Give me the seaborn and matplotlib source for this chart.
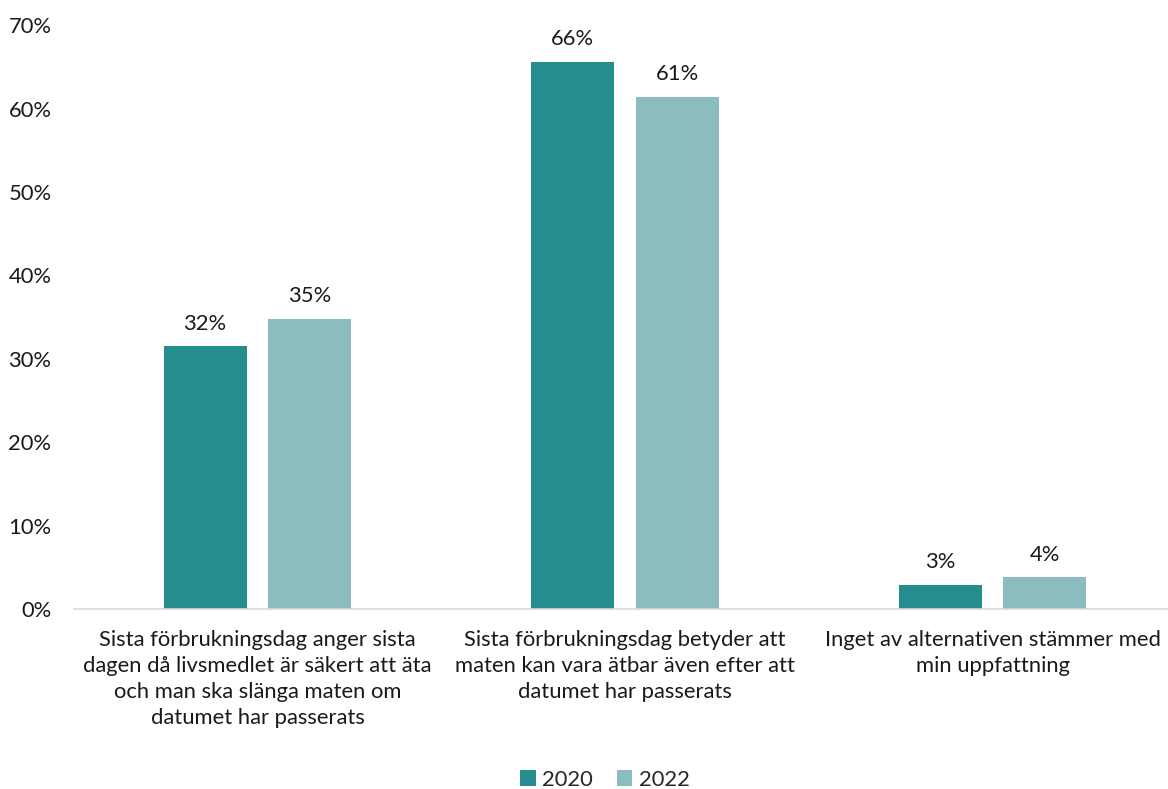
import matplotlib
matplotlib.use("Agg")
import matplotlib.pyplot as plt
import seaborn as sns
import pandas as pd
from matplotlib.patches import Patch

categories = [
    "Sista förbrukningsdag anger sista\ndagen då livsmedlet är säkert att äta\noch man ska slänga maten om\ndatumet har passerats",
    "Sista förbrukningsdag betyder att\nmaten kan vara ätbar även efter att\ndatumet har passerats",
    "Inget av alternativen stämmer med\nmin uppfattning",
]
years = ["2020", "2022"]
values_2020 = [31.5, 65.6, 2.9]
values_2022 = [34.8, 61.4, 3.8]
colors = {"2020": "#268D8E", "2022": "#8BBCBF"}

df = pd.DataFrame({
    "kategori": categories * 2,
    "år": [years[0]] * 3 + [years[1]] * 3,
    "andel": values_2020 + values_2022,
})

sns.set_theme(style="white")
plt.rcParams["font.family"] = ["Lato", "DejaVu Sans"]
FS = 15.8
TXT = "#1a1a1a"

fig = plt.figure(figsize=(11.68, 7.89), dpi=100)
ax = fig.add_axes([0.0631, 0.228, 0.944, 0.74])

sns.barplot(data=df, x="kategori", y="andel", hue="år", order=categories,
            hue_order=years, palette=colors, width=0.571, gap=0.209,
            ax=ax, legend=False, saturation=1, edgecolor="none")

for container in ax.containers:
    ax.bar_label(container, labels=[f"{v:.0f}%" for v in container.datavalues],
                 padding=9, fontsize=FS, color=TXT)

ax.set_ylim(0, 70)
ax.set_yticks(range(0, 71, 10))
ax.set_yticklabels([f"{t}%" for t in range(0, 71, 10)], fontsize=FS, color=TXT)
ax.set_xlim(-0.5, 2.5)
ax.set_xlabel("")
ax.set_ylabel("")
ax.tick_params(axis="x", labelsize=FS, colors=TXT, pad=15, length=0)
ax.tick_params(axis="y", pad=16, length=0)
for lbl in ax.get_xticklabels():
    lbl.set_linespacing(1.38)

for side in ["top", "right", "left"]:
    ax.spines[side].set_visible(False)
ax.spines["bottom"].set_color("#D9D9D9")
ax.spines["bottom"].set_linewidth(1.2)
ax.grid(False)

handles = [Patch(facecolor=colors[y], edgecolor="none", label=y) for y in years]
fig.legend(handles=handles, loc="center", bbox_to_anchor=(0.518, 0.012),
           ncol=2, frameon=False, fontsize=FS, handlelength=0.7,
           handleheight=0.7, handletextpad=0.3, columnspacing=1.1)

fig.savefig("out.png", dpi=100, facecolor="white")
